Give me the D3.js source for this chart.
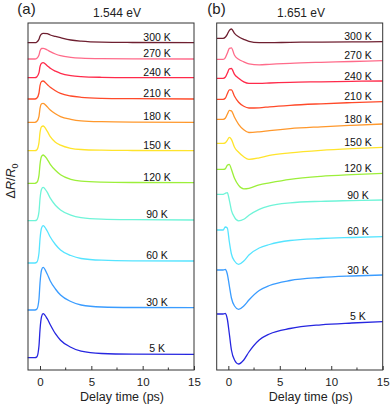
<!DOCTYPE html>
<html>
<head>
<meta charset="utf-8">
<script src="https://cdn.jsdelivr.net/npm/d3@7"></script>
<style>
  body { margin: 0; background: #fff; }
  svg { font-family: "Liberation Sans", Arial, sans-serif; }
</style>
</head>
<body>
<svg id="chart" width="390" height="407"></svg>
<script>
// temperatures, top to bottom
var temps = ['300 K', '270 K', '240 K', '210 K', '180 K', '150 K', '120 K', '90 K', '60 K', '30 K', '5 K'];

// (a) 1.544 eV -- delay grid (ps), vertical offsets, traces (arb. units)
var delayA = [-1.2, -0.5, -0.3, -0.1, 0, 0.15, 0.3, 0.7, 1, 1.5, 2, 3, 4, 6, 9, 15];
var offsetA = [32.73, 31.1, 29.23, 27.1, 24.77, 21.93, 18.67, 14.93, 10.7, 6.0, 1.23];
var a300 = [0, 0, 0.08, 0.35, 0.65, 0.88, 0.94, 0.9, 0.77, 0.63, 0.5, 0.27, 0.15, 0.05, 0.02, 0];
var a270 = [0, 0, 0.08, 0.4, 0.8, 1.05, 1.07, 0.9, 0.73, 0.5, 0.33, 0.17, 0.09, 0.03, 0.01, 0];
var a240 = [0, 0, 0.1, 0.5, 1.1, 1.45, 1.5, 1.2, 0.94, 0.65, 0.44, 0.21, 0.11, 0.04, 0.01, 0];
var a210 = [0, 0, 0.1, 0.6, 1.35, 1.75, 1.8, 1.45, 1.17, 0.83, 0.57, 0.3, 0.17, 0.07, 0.03, 0];
var a180 = [0, 0, 0.1, 0.6, 1.4, 1.85, 1.9, 1.55, 1.23, 0.85, 0.57, 0.3, 0.15, 0.06, 0.02, 0];
var a150 = [0, 0, 0.1, 0.8, 1.8, 2.4, 2.47, 1.95, 1.4, 0.85, 0.55, 0.24, 0.12, 0.05, 0.02, 0];
var a120 = [0, 0, 0.1, 0.8, 1.9, 2.7, 2.83, 2.4, 1.9, 1.3, 0.85, 0.4, 0.22, 0.12, 0.08, 0.06];
var a90 = [0, 0, 0.1, 0.9, 2.2, 3.15, 3.34, 2.85, 2.25, 1.55, 1.08, 0.55, 0.3, 0.15, 0.1, 0.07];
var a60 = [0, 0, 0.1, 1.0, 2.4, 3.5, 3.73, 3.2, 2.6, 1.85, 1.3, 0.75, 0.45, 0.28, 0.22, 0.2];
var a30 = [0, 0, 0.1, 1.1, 2.7, 4.0, 4.27, 3.6, 2.9, 2.1, 1.5, 0.85, 0.5, 0.3, 0.25, 0.23];
var a5 = [0, 0, 0.1, 1.2, 2.8, 4.1, 4.4, 3.9, 3.3, 2.4, 1.75, 1.05, 0.65, 0.42, 0.36, 0.34];

// (b) 1.651 eV
var delayB = [-1.1, -0.5, -0.3, -0.1, 0.1, 0.3, 0.6, 1, 1.5, 2, 3, 4, 6, 9, 12, 15];
var offsetB = [33.17, 31.07, 29.17, 27.07, 25.07, 22.67, 20.07, 17.57, 14.0, 10.0, 5.6];
var b300 = [0, 0, 0.1, 0.4, 0.8, 0.93, 0.5, 0.15, -0.1, -0.3, -0.43, -0.44, -0.4, -0.38, -0.36, -0.34];
var b270 = [0, 0, 0.15, 0.6, 1.1, 1.15, 0.4, 0, -0.25, -0.45, -0.55, -0.5, -0.4, -0.3, -0.22, -0.14];
var b240 = [0, 0, 0.1, 0.5, 0.95, 0.98, 0.4, 0, -0.35, -0.5, -0.5, -0.47, -0.4, -0.35, -0.3, -0.27];
var b210 = [0, 0, 0.1, 0.55, 0.95, 0.95, 0.3, -0.3, -0.7, -0.87, -0.85, -0.75, -0.6, -0.45, -0.33, -0.23];
var b180 = [0, 0, 0.1, 0.5, 0.9, 0.85, 0.2, -0.5, -1.05, -1.32, -1.25, -1.13, -0.93, -0.75, -0.6, -0.47];
var b150 = [0, 0, 0.05, 0.3, 0.6, 0.4, -0.4, -0.9, -1.35, -1.6, -1.45, -1.2, -0.95, -0.7, -0.53, -0.4];
var b120 = [0, 0, 0.05, 0.4, 0.5, 0, -0.9, -1.6, -1.95, -1.9, -1.55, -1.35, -1.0, -0.7, -0.53, -0.4];
var b90 = [0, 0, 0.1, 0.16, -0.6, -1.6, -2.3, -2.65, -2.5, -2.1, -1.5, -1.15, -0.85, -0.7, -0.63, -0.57];
var b60 = [0, 0, 0.3, 0.2, -1.2, -2.4, -3.1, -3.43, -3.1, -2.5, -1.8, -1.45, -1.05, -0.85, -0.75, -0.67];
var b30 = [0, 0, 0.05, -0.4, -1.6, -2.8, -3.6, -3.93, -3.6, -3.0, -2.05, -1.55, -1.05, -0.75, -0.6, -0.5];
var b5 = [0, 0, 0.05, -0.5, -2.0, -3.6, -4.6, -5.0, -4.6, -3.8, -2.6, -2.0, -1.45, -1.08, -0.9, -0.77];

var xTicks = [0, 5, 10, 15];
var xMinorTicks = [2.5, 7.5, 12.5];

var colors = ['#6e1f30', '#ff6b8a', '#ff2a4a', '#ff4a2a', '#ff982c', '#ffe42c',
              '#9cef3a', '#6ff4d8', '#55e4ff', '#3a9cff', '#2626e0'];

var svg = d3.select('#chart');

function drawPanel(p) {
  var x = d3.scaleLinear().domain(p.xDomain).range([p.left, p.right]);
  var y = d3.scaleLinear().domain([0, 34.7]).range([370, 23]);
  var g = svg.append('g');

  var line = d3.line()
    .x(function(d) { return x(d[0]); })
    .y(function(d) { return y(d[1]); })
    .curve(d3.curveMonotoneX);

  p.traces.forEach(function(tr, i) {
    var pts = p.delay.map(function(t, k) { return [t, p.offsets[i] + tr[k]]; });
    g.append('path')
      .attr('d', line(pts))
      .attr('fill', 'none')
      .attr('stroke', colors[i])
      .attr('stroke-width', 1.3);
    var last = pts[pts.length - 1];
    g.append('text')
      .attr('x', x(p.labelT))
      .attr('y', y(last[1]) - p.labelDy)
      .attr('text-anchor', 'middle')
      .attr('font-size', 10.5)
      .attr('fill', '#111')
      .text(temps[i]);
  });

  // frame
  g.append('rect')
    .attr('x', p.left).attr('y', 23)
    .attr('width', p.right - p.left).attr('height', 347)
    .attr('fill', 'none').attr('stroke', '#333').attr('stroke-width', 1);

  // bottom axis, ticks pointing inward
  var ax = g.append('g').attr('transform', 'translate(0,370)')
    .call(d3.axisBottom(x).tickValues(xTicks).tickSize(-4).tickPadding(8).tickFormat(d3.format('d')));
  ax.select('.domain').remove();
  ax.selectAll('line').attr('stroke', '#333');
  ax.selectAll('text').attr('font-size', 11.5).attr('fill', '#222')
    .attr('font-family', '"Liberation Sans", Arial, sans-serif');
  ax.append('g').selectAll('line').data(xMinorTicks).join('line')
    .attr('x1', function(d) { return x(d); }).attr('x2', function(d) { return x(d); })
    .attr('y1', 0).attr('y2', -2.5).attr('stroke', '#333');

  g.append('text')
    .attr('x', p.left + 94).attr('y', 401)
    .attr('text-anchor', 'middle').attr('font-size', 12.5).attr('fill', '#222')
    .text('Delay time (ps)');

  g.append('text')
    .attr('x', p.titleX).attr('y', 17)
    .attr('text-anchor', 'middle').attr('font-size', 12).attr('fill', '#222')
    .text(p.title);

  g.append('text')
    .attr('x', p.tagX).attr('y', 13.5)
    .attr('text-anchor', 'middle').attr('font-size', 15).attr('fill', '#222')
    .text(p.tag);
}

drawPanel({
  delay: delayA, offsets: offsetA,
  traces: [a300, a270, a240, a210, a180, a150, a120, a90, a60, a30, a5],
  xDomain: [-1.17, 15], left: 28, right: 194,
  labelT: 11.4, labelDy: 2,
  title: '1.544 eV', titleX: 117, tag: '(a)', tagX: 26.5
});

drawPanel({
  delay: delayB, offsets: offsetB,
  traces: [b300, b270, b240, b210, b180, b150, b120, b90, b60, b30, b5],
  xDomain: [-1.13, 15], left: 216.7, right: 382.7,
  labelT: 12.6, labelDy: 1.5,
  title: '1.651 eV', titleX: 301, tag: '(b)', tagX: 216.5
});

// y label
var yl = svg.append('text')
  .attr('transform', 'translate(14.5,181) rotate(-90)')
  .attr('text-anchor', 'middle').attr('font-size', 12.5).attr('fill', '#222');
yl.append('tspan').text('\u0394');
yl.append('tspan').attr('font-style', 'italic').text('R');
yl.append('tspan').text('/');
yl.append('tspan').attr('font-style', 'italic').text('R');
yl.append('tspan').attr('font-size', 9).attr('dy', 3).text('0');
</script>
</body>
</html>
